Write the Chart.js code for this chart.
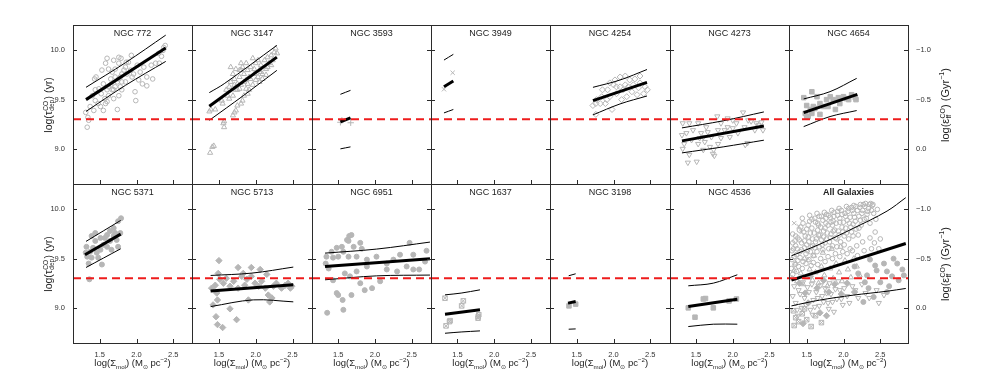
<!DOCTYPE html>
<html><head><meta charset="utf-8">
<script src="https://cdn.jsdelivr.net/npm/chart.js@4.4.1/dist/chart.umd.min.js"></script>
<style>
html,body{margin:0;padding:0;background:#fff;}
#wrap{position:relative;width:981px;height:369px;overflow:hidden;font-family:"Liberation Sans",Arial,Helvetica,sans-serif;color:#222;}
canvas{position:absolute;}
.lab{position:absolute;white-space:nowrap;font-size:9px;line-height:1;}
.rot{transform:translate(-50%,-50%) rotate(-90deg);}
.hc{transform:translate(-50%,-50%);}
.ss{display:inline-block;vertical-align:middle;font-size:0.62em;line-height:0.95;text-align:left;margin:0 0.05em;}
.ss span{display:block;}
sub,sup{font-size:0.65em;line-height:0;}
</style></head>
<body><div id="wrap"></div>
<script>
// ---------------- data ----------------
const panelTitles = ['NGC 772','NGC 3147','NGC 3593','NGC 3949','NGC 4254','NGC 4273','NGC 4654',
                     'NGC 5371','NGC 5713','NGC 6951','NGC 1637','NGC 3198','NGC 4536','All Galaxies'];
const xTickValues = [1.5, 2.0, 2.5];
const yTickValues = [9.0, 9.5, 10.0];
const effTickValues = [-1.0, -0.5, 0.0];
const refLevel = 9.3;

const ngc772Points = [[1.33,9.22],[1.35,9.29],[1.34,9.32],[1.31,9.37],[1.42,9.39],[1.48,9.46],[1.44,9.49],[1.58,9.46],[1.57,9.51],[1.62,9.54],[1.74,9.40],[1.67,9.60],[1.52,9.56],[1.43,9.71],[1.45,9.73],[1.60,9.92],[1.62,9.81],[1.58,9.87],[1.69,9.90],[1.79,9.92],[1.76,9.87],[1.85,9.83],[1.93,9.95],[1.89,9.88],[1.80,9.76],[1.71,9.73],[1.74,9.68],[1.85,9.68],[1.94,9.73],[1.98,9.58],[1.99,9.49],[2.05,9.78],[2.10,9.83],[2.14,9.64],[2.22,9.71],[2.20,9.85],[2.26,9.87],[2.31,9.87],[2.34,9.94],[2.36,10.00],[2.39,10.05],[2.30,9.97],[2.37,10.03],[1.80,9.60],[1.78,9.63],[1.65,9.71],[1.55,9.66],[1.49,9.61],[1.40,9.54],[1.37,9.43],[1.51,9.43],[1.55,9.39],[1.60,9.48],[1.69,9.51],[1.76,9.54],[1.65,9.65],[1.71,9.63],[1.67,9.78],[1.78,9.73],[1.83,9.80],[1.87,9.76],[1.92,9.80],[1.96,9.76],[2.01,9.85],[2.03,9.70],[2.14,9.73],[1.71,9.81],[1.76,9.93],[1.62,9.63],[1.53,9.80],[1.44,9.60],[1.80,9.68],[1.86,9.88],[1.69,9.60],[1.76,9.71],[1.60,9.60],[2.08,9.66]];
const ngc772Fit = [[1.314,9.50],[2.397,10.025]];
const ngc772Upper = [[1.314,9.625],[1.85,9.875],[2.397,10.155]];
const ngc772Lower = [[1.314,9.38],[1.85,9.645],[2.397,9.888]];

const ngc3147Points = [[1.38,8.96],[1.41,9.02],[1.43,9.03],[1.56,9.26],[1.57,9.22],[1.57,9.28],[1.37,9.38],[1.39,9.40],[1.45,9.40],[1.55,9.46],[1.54,9.49],[1.69,9.34],[1.71,9.37],[1.73,9.39],[1.75,9.44],[1.80,9.46],[1.82,9.49],[1.84,9.54],[1.89,9.56],[1.91,9.60],[1.87,9.61],[1.96,9.65],[1.62,9.54],[1.60,9.60],[1.64,9.63],[1.66,9.68],[1.69,9.76],[1.71,9.71],[1.75,9.66],[1.78,9.73],[1.80,9.80],[1.82,9.83],[1.84,9.76],[1.87,9.70],[1.89,9.80],[1.91,9.73],[1.93,9.83],[1.98,9.76],[2.00,9.87],[2.03,9.73],[2.05,9.80],[2.07,9.85],[2.09,9.76],[2.12,9.90],[2.14,9.81],[2.16,9.93],[2.18,9.87],[2.21,9.95],[2.23,9.90],[2.25,9.98],[2.27,10.02],[2.29,9.97],[1.73,9.60],[1.78,9.61],[1.80,9.65],[1.84,9.68],[2.00,9.70],[2.05,9.68],[2.09,9.71],[2.14,9.75],[1.66,9.83],[1.73,9.81],[1.78,9.80],[1.96,9.92],[2.03,9.90],[1.69,9.54],[1.64,9.51],[1.71,9.65],[1.75,9.60],[1.89,9.66],[1.93,9.71],[1.98,9.81],[2.07,9.78],[2.16,9.83],[2.21,9.85],[1.87,9.87],[1.80,9.87]];
const ngc3147Fit = [[1.369,9.432],[2.287,9.932]];
const ngc3147Upper = [[1.369,9.571],[1.572,9.662],[2.287,10.051]];
const ngc3147Lower = [[1.369,9.29],[1.83,9.54],[2.287,9.797]];

const ngc3593Points = [[1.53,9.27],[1.55,9.29],[1.67,9.265]];
const ngc3593Fit = [[1.53,9.274],[1.667,9.314]];
const ngc3593Upper = [[1.53,9.554],[1.667,9.594]];
const ngc3593Lower = [[1.53,9.0],[1.667,9.02]];

const ngc3949Points = [[1.435,9.773],[1.317,9.605]];
const ngc3949Fit = [[1.317,9.631],[1.444,9.689]];
const ngc3949Upper = [[1.317,9.902],[1.444,9.96]];
const ngc3949Lower = [[1.317,9.365],[1.444,9.40]];

const ngc4254Points = [[1.72,9.44],[1.76,9.46],[1.82,9.46],[1.89,9.46],[1.98,9.40],[1.85,9.60],[1.92,9.60],[2.00,9.65],[2.04,9.63],[2.09,9.73],[2.16,9.74],[2.22,9.70],[2.29,9.71],[2.36,9.67],[2.43,9.63],[2.46,9.60],[2.41,9.56],[2.32,9.55],[2.25,9.58],[2.18,9.53],[2.11,9.50],[2.04,9.56],[1.95,9.53],[1.91,9.50],[1.84,9.53],[1.77,9.50],[2.09,9.63],[2.16,9.65],[2.20,9.63],[2.27,9.65],[2.34,9.62],[2.13,9.60],[2.02,9.70],[1.95,9.67],[2.36,9.74],[1.76,9.35]];
const ngc4254Fit = [[1.721,9.49],[2.455,9.675]];
const ngc4254Upper = [[1.721,9.625],[2.088,9.699],[2.455,9.806]];
const ngc4254Lower = [[1.721,9.345],[2.088,9.456],[2.455,9.537]];

const ngc4273Points = [[1.39,8.86],[1.51,8.87],[1.41,8.94],[1.32,9.00],[1.34,9.05],[1.31,9.14],[1.32,9.26],[1.41,9.26],[1.53,9.26],[1.46,9.19],[1.57,9.16],[1.55,9.11],[1.62,9.07],[1.66,9.17],[1.71,9.12],[1.75,8.93],[1.73,8.95],[1.74,8.99],[1.69,9.02],[1.80,9.05],[1.79,9.33],[1.84,9.26],[1.89,9.19],[1.93,9.31],[1.96,9.12],[2.00,9.21],[2.05,9.26],[2.07,9.16],[2.14,9.37],[2.16,9.22],[2.21,9.29],[2.25,9.28],[2.17,9.04],[2.20,9.06],[2.30,9.19],[2.35,9.24],[2.41,9.19],[2.39,9.27],[1.37,9.16],[1.44,9.09],[1.60,8.99],[1.84,9.11],[1.64,9.22],[2.00,9.29],[2.32,9.26],[1.80,9.19],[1.93,9.22],[1.53,9.05],[1.60,9.12]];
const ngc4273Fit = [[1.31,9.081],[2.423,9.233]];
const ngc4273Upper = [[1.31,9.213],[1.87,9.285],[2.423,9.375]];
const ngc4273Lower = [[1.31,8.959],[1.87,9.02],[2.423,9.088]];

const ngc4654Points = [[1.46,9.52],[1.57,9.58],[1.64,9.53],[1.50,9.44],[1.52,9.33],[1.48,9.36],[1.55,9.40],[1.59,9.43],[1.68,9.35],[1.73,9.43],[1.77,9.50],[1.82,9.53],[1.86,9.50],[1.89,9.40],[1.93,9.52],[2.00,9.53],[2.04,9.51],[2.11,9.55],[2.17,9.50],[2.16,9.52],[1.68,9.46],[1.61,9.41],[1.57,9.36],[1.50,9.33],[1.79,9.43],[1.95,9.46],[2.07,9.50]];
const ngc4654Fit = [[1.459,9.368],[2.188,9.554]];
const ngc4654Upper = [[1.459,9.507],[1.817,9.581],[2.179,9.716]];
const ngc4654Lower = [[1.459,9.226],[1.817,9.328],[2.179,9.389]];

const ngc5371Points = [[1.36,9.29],[1.53,9.44],[1.79,9.91],[1.75,9.88],[1.69,9.81],[1.60,9.74],[1.51,9.71],[1.44,9.76],[1.39,9.73],[1.32,9.62],[1.33,9.52],[1.37,9.57],[1.41,9.61],[1.46,9.56],[1.51,9.59],[1.55,9.64],[1.60,9.62],[1.64,9.68],[1.69,9.73],[1.73,9.69],[1.78,9.76],[1.75,9.62],[1.66,9.59],[1.48,9.51],[1.39,9.51],[1.35,9.45],[1.57,9.71],[1.64,9.78],[1.71,9.76],[1.44,9.68],[1.31,9.56]];
const ngc5371Fit = [[1.30,9.539],[1.785,9.749]];
const ngc5371Upper = [[1.314,9.675],[1.785,9.888]];
const ngc5371Lower = [[1.314,9.41],[1.785,9.60]];

const ngc5713Points = [[1.50,9.48],[1.55,8.80],[1.48,8.83],[1.46,8.91],[1.74,8.88],[1.76,9.41],[1.94,9.41],[1.65,8.99],[1.90,9.08],[2.19,9.06],[2.22,9.10],[2.47,9.20],[2.49,9.22],[1.40,9.20],[1.45,9.23],[1.49,9.35],[1.51,9.29],[1.47,9.15],[1.48,9.08],[1.56,9.25],[1.60,9.30],[1.65,9.22],[1.70,9.27],[1.76,9.20],[1.81,9.32],[1.85,9.23],[1.88,9.29],[1.94,9.32],[1.99,9.25],[2.04,9.22],[2.08,9.27],[2.13,9.20],[2.17,9.13],[2.24,9.22],[2.28,9.25],[2.35,9.20],[2.40,9.23],[2.44,9.25],[2.06,9.39],[2.15,9.34],[1.83,9.35],[1.42,9.03]];
const ngc5713Fit = [[1.387,9.17],[2.51,9.234]];
const ngc5713Upper = [[1.387,9.329],[1.948,9.353],[2.51,9.414]];
const ngc5713Lower = [[1.387,9.013],[1.966,9.081],[2.51,9.061]];

const ngc6951Points = [[1.35,8.95],[1.57,8.98],[1.65,9.73],[1.68,9.74],[1.62,9.69],[1.55,9.62],[1.48,9.61],[1.41,9.57],[1.34,9.52],[1.33,9.45],[1.37,9.40],[1.43,9.51],[1.50,9.52],[1.57,9.57],[1.64,9.52],[1.71,9.62],[1.82,9.60],[1.75,9.52],[1.89,9.42],[1.48,9.15],[1.50,9.13],[1.56,9.08],[1.68,9.13],[1.80,9.25],[1.86,9.18],[1.96,9.20],[2.07,9.27],[1.89,9.49],[2.02,9.52],[2.16,9.45],[2.25,9.49],[2.34,9.54],[2.47,9.66],[2.43,9.42],[2.52,9.39],[2.60,9.39],[2.70,9.58],[2.68,9.47],[2.52,9.54],[2.16,9.39],[2.30,9.37],[1.59,9.35],[1.66,9.32],[1.75,9.37],[1.43,9.28],[1.80,9.66],[1.64,9.68]];
const ngc6951Fit = [[1.321,9.421],[2.747,9.498]];
const ngc6951Upper = [[1.321,9.556],[2.023,9.597],[2.747,9.668]];
const ngc6951Lower = [[1.321,9.285],[2.023,9.325],[2.747,9.333]];

const ngc1637Points = [[1.331,9.098],[1.345,8.817],[1.40,8.87],[1.392,8.86],[1.557,9.02],[1.58,9.071],[1.783,8.912],[1.79,8.93],[1.78,8.895]];
const ngc1637Fit = [[1.331,8.936],[1.806,8.98]];
const ngc1637Upper = [[1.331,9.132],[1.55,9.15],[1.806,9.183]];
const ngc1637Lower = [[1.331,8.742],[1.55,8.755],[1.806,8.766]];

const ngc3198Points = [[1.395,9.02],[1.486,9.038]];
const ngc3198Fit = [[1.382,9.048],[1.486,9.064]];
const ngc3198Upper = [[1.391,9.326],[1.486,9.346]];
const ngc3198Lower = [[1.391,8.783],[1.486,8.786]];

const ngc4536Points = [[1.396,9.0],[1.487,8.905],[1.60,9.09],[1.63,9.095],[1.736,9.0],[1.95,9.07],[2.05,9.09]];
const ngc4536Fit = [[1.396,9.013],[2.062,9.088]];
const ngc4536Upper = [[1.396,9.224],[1.736,9.251],[2.062,9.336]];
const ngc4536Lower = [[1.396,8.81],[1.736,8.834],[2.062,8.834]];

const allCircles = [[1.30,9.49],[1.32,9.60],[1.34,9.68],[1.31,9.75],[1.36,9.54],[1.38,9.71],[1.35,9.63],[1.41,9.57],[1.43,9.66],[1.40,9.79],[1.45,9.86],[1.47,9.61],[1.44,9.91],[1.48,9.73],[1.51,9.58],[1.53,9.67],[1.55,9.76],[1.52,9.84],[1.57,9.90],[1.54,9.94],[1.58,9.70],[1.56,9.62],[1.61,9.61],[1.63,9.70],[1.65,9.79],[1.62,9.87],[1.67,9.93],[1.64,9.96],[1.68,9.74],[1.66,9.84],[1.71,9.64],[1.73,9.72],[1.75,9.81],[1.72,9.89],[1.77,9.95],[1.74,9.97],[1.78,9.76],[1.76,9.86],[1.81,9.67],[1.83,9.75],[1.85,9.84],[1.82,9.92],[1.87,9.97],[1.84,9.99],[1.88,9.79],[1.86,9.88],[1.91,9.70],[1.93,9.78],[1.95,9.87],[1.92,9.94],[1.97,9.99],[1.94,10.01],[1.98,9.82],[2.01,9.73],[2.03,9.81],[2.05,9.89],[2.02,9.96],[2.07,10.01],[2.04,10.03],[2.08,9.86],[2.11,9.77],[2.13,9.85],[2.15,9.92],[2.12,9.99],[2.17,10.03],[2.14,10.04],[2.21,9.81],[2.23,9.89],[2.25,9.96],[2.22,10.02],[2.27,10.05],[2.29,10.03],[2.31,9.91],[2.33,9.98],[2.35,10.05],[2.37,10.06],[2.39,10.04],[2.43,9.77],[2.48,9.60],[2.41,9.96],[2.36,9.71],[2.26,9.67],[2.18,9.63],[2.09,9.60],[1.99,9.57],[1.89,9.55],[1.79,9.52],[1.69,9.50],[1.59,9.46],[1.49,9.45],[1.39,9.42]];
const allCirclesB = [[1.29,9.40],[1.30,9.58],[1.31,9.66],[1.33,9.52],[1.34,9.44],[1.35,9.73],[1.37,9.60],[1.38,9.48],[1.40,9.69],[1.41,9.51],[1.42,9.82],[1.43,9.59],[1.45,9.47],[1.46,9.77],[1.47,9.68],[1.49,9.55],[1.50,9.80],[1.50,9.64],[1.52,9.72],[1.53,9.49],[1.54,9.88],[1.55,9.57],[1.57,9.81],[1.58,9.63],[1.59,9.53],[1.60,9.76],[1.61,9.91],[1.62,9.67],[1.64,9.57],[1.65,9.86],[1.66,9.74],[1.67,9.62],[1.69,9.82],[1.70,9.69],[1.70,9.93],[1.72,9.59],[1.73,9.78],[1.75,9.66],[1.76,9.91],[1.77,9.70],[1.79,9.84],[1.80,9.60],[1.80,9.94],[1.82,9.71],[1.83,9.87],[1.85,9.63],[1.86,9.78],[1.87,9.93],[1.89,9.71],[1.90,9.86],[1.91,9.62],[1.92,9.98],[1.94,9.74],[1.95,9.91],[1.96,9.67],[1.98,9.95],[1.99,9.77],[2.00,9.87],[2.01,9.64],[2.03,9.93],[2.04,9.76],[2.06,9.98],[2.07,9.70],[2.09,9.92],[2.10,9.82],[2.11,10.02],[2.13,9.73],[2.14,9.96],[2.16,9.88],[2.17,9.80],[2.19,9.99],[2.20,9.74],[2.21,9.93],[2.23,10.05],[2.24,9.84],[2.26,9.99],[2.28,9.90],[2.30,10.06],[2.32,9.95],[2.34,10.01],[2.36,9.86],[2.38,9.99],[2.40,10.05],[2.44,9.90],[2.46,10.00],[2.42,9.66],[2.50,9.70],[2.38,9.60],[2.28,9.58],[2.19,9.53],[1.31,9.34],[1.36,9.37],[1.44,9.40],[1.56,9.43],[1.65,9.44],[1.75,9.47],[1.85,9.50],[1.95,9.52],[2.05,9.55],[2.12,9.58]];
const allTriangles = [[1.30,9.30],[1.33,9.38],[1.37,9.27],[1.42,9.35],[1.45,9.24],[1.50,9.31],[1.54,9.39],[1.58,9.28],[1.62,9.36],[1.66,9.25],[1.70,9.42],[1.74,9.33],[1.78,9.22],[1.82,9.40],[1.86,9.30],[1.90,9.45],[1.94,9.36],[1.98,9.27],[2.02,9.48],[2.06,9.39],[2.10,9.31],[2.14,9.50],[2.18,9.42],[2.22,9.33],[1.35,9.45],[1.47,9.50],[1.60,9.53],[1.72,9.56],[1.84,9.60],[1.96,9.62]];
const allDownTriangles = [[1.31,9.12],[1.35,9.05],[1.39,9.18],[1.43,9.00],[1.47,9.10],[1.51,9.21],[1.55,8.98],[1.59,9.08],[1.63,9.16],[1.67,9.02],[1.71,9.12],[1.75,9.20],[1.79,9.05],[1.83,9.14],[1.87,8.96],[1.91,9.09],[1.95,9.18],[1.99,9.03],[2.05,9.12],[2.12,9.22],[2.20,9.10],[2.30,9.15],[2.45,9.18],[2.55,9.13],[1.33,9.22],[1.37,8.98],[1.41,9.14],[1.45,9.26],[1.49,9.03],[1.53,9.16],[1.57,9.24],[1.61,9.01],[1.65,9.10],[1.69,9.23],[1.73,9.06],[1.77,9.15],[1.81,9.25],[1.85,9.06],[1.89,9.19],[1.93,9.27],[1.97,9.09],[2.01,9.20],[2.08,9.05],[2.16,9.18],[2.25,9.24],[2.35,9.10],[2.48,9.05],[1.38,8.92],[1.58,8.93],[1.80,8.99]];
const allSquares = [[1.33,8.82],[1.35,8.90],[1.39,8.86],[1.44,8.94],[1.50,8.88],[1.56,8.81],[1.62,8.92],[1.70,8.85],[1.32,8.97],[1.47,8.99]];
const allFilledCircles = [[2.43,9.43],[2.45,9.38],[2.59,9.37],[2.73,9.45],[2.80,9.39],[2.82,9.33],[2.59,9.16],[2.41,9.11],[2.27,9.06],[2.34,9.20],[2.50,9.26],[2.66,9.32],[2.29,9.26],[2.20,9.35],[2.36,9.49],[2.15,9.42],[2.68,9.50],[2.32,9.33],[2.55,9.45],[2.75,9.28],[2.62,9.22]];
const allDiamonds = [[1.40,9.25],[1.48,9.15],[1.55,9.32],[1.64,9.20],[1.73,9.28],[1.80,9.16],[1.88,9.24],[1.97,9.14],[2.05,9.25],[2.15,9.16],[1.52,9.05],[1.68,8.95],[1.77,8.92],[1.45,8.84]];
const allCrosses = [[1.33,9.86],[1.39,9.83],[1.43,9.77],[1.52,9.50]];
const allFit = [[1.293,9.281],[2.846,9.654]];
const allUpper = [[1.293,9.529],[1.671,9.644],[2.131,9.807],[2.592,9.983],[2.846,10.119]];
const allLower = [[1.293,9.02],[1.671,9.078],[2.131,9.129],[2.592,9.169],[2.846,9.197]];

// ---------------- layout & style ----------------
const colLefts = [73,192,312,431,550,670,789];
const plotRight = 908;
const rowTops = [25,184];
const rowHeight = 159;
const tickPx15 = [99.7,218.95,338.2,457.45,576.7,695.95,806.7]; // pixel where x = 1.5 in each column
const pxPerDex = 73.6;
const yMin = 8.643, yMax = 10.258;
const FONT = '"Liberation Sans", Arial, Helvetica, sans-serif';
const GRAY = '#b6b6b6';

const markers = {
  openCircle:{style:'circle',r:2.3,fill:false},
  openTriangle:{style:'triangle',r:3,fill:false},
  plus:{style:'cross',r:3.2,fill:false},
  cross:{style:'crossRot',r:3,fill:false},
  openDiamond:{style:'rectRot',r:3,fill:false},
  downTriangle:{style:'triangle',r:3,fill:false,rot:180},
  filledSquare:{style:'rect',r:3.2,fill:true},
  filledDiamond:{style:'rectRot',r:3.2,fill:true},
  filledCircle:{style:'circle',r:2.5,fill:true},
  openSquare:{style:'rect',r:3.2,fill:false},
  squareCross:{style:'crossRot',r:3.2,fill:false}
};

const panels = [
  {sets:[[ngc772Points,'openCircle']], fit:ngc772Fit, up:ngc772Upper, lo:ngc772Lower},
  {sets:[[ngc3147Points,'openTriangle']], fit:ngc3147Fit, up:ngc3147Upper, lo:ngc3147Lower},
  {sets:[[ngc3593Points,'plus']], fit:ngc3593Fit, up:ngc3593Upper, lo:ngc3593Lower},
  {sets:[[ngc3949Points,'cross']], fit:ngc3949Fit, up:ngc3949Upper, lo:ngc3949Lower},
  {sets:[[ngc4254Points,'openDiamond']], fit:ngc4254Fit, up:ngc4254Upper, lo:ngc4254Lower},
  {sets:[[ngc4273Points,'downTriangle']], fit:ngc4273Fit, up:ngc4273Upper, lo:ngc4273Lower},
  {sets:[[ngc4654Points,'filledSquare']], fit:ngc4654Fit, up:ngc4654Upper, lo:ngc4654Lower},
  {sets:[[ngc5371Points,'filledCircle']], fit:ngc5371Fit, up:ngc5371Upper, lo:ngc5371Lower},
  {sets:[[ngc5713Points,'filledDiamond']], fit:ngc5713Fit, up:ngc5713Upper, lo:ngc5713Lower},
  {sets:[[ngc6951Points,'filledCircle']], fit:ngc6951Fit, up:ngc6951Upper, lo:ngc6951Lower},
  {sets:[[ngc1637Points,'openSquare'],[ngc1637Points,'squareCross']], fit:ngc1637Fit, up:ngc1637Upper, lo:ngc1637Lower},
  {sets:[[ngc3198Points,'filledSquare']], fit:ngc3198Fit, up:ngc3198Upper, lo:ngc3198Lower},
  {sets:[[ngc4536Points,'filledSquare']], fit:ngc4536Fit, up:ngc4536Upper, lo:ngc4536Lower},
  {sets:[[allCircles,'openCircle'],[allCirclesB,'openCircle'],[allTriangles,'openTriangle'],[allDownTriangles,'downTriangle'],[allSquares,'openSquare'],[allSquares,'squareCross'],[allFilledCircles,'filledCircle'],[allDiamonds,'filledDiamond'],[allCrosses,'cross']], fit:allFit, up:allUpper, lo:allLower, bold:true}
];

const toXY = a => a.map(([x,y]) => ({x, y}));

const decor = {
  id:'decor',
  afterDatasetsDraw(chart, args, opts){
    const {ctx, chartArea:a} = chart;
    const xs = chart.scales.x, ys = chart.scales.y;
    ctx.save();
    ctx.strokeStyle = '#2b2b2b'; ctx.lineWidth = 1;
    ctx.beginPath();
    yTickValues.forEach(v => {
      const py = Math.round(ys.getPixelForValue(v)) + 0.5;
      ctx.moveTo(a.left, py); ctx.lineTo(a.left + 4, py);
      ctx.moveTo(a.right - 4, py); ctx.lineTo(a.right, py);
    });
    xTickValues.forEach(v => {
      const px = Math.round(xs.getPixelForValue(v)) + 0.5;
      ctx.moveTo(px, a.bottom); ctx.lineTo(px, a.bottom - 4);
    });
    ctx.stroke();
    ctx.strokeRect(a.left + 0.5, a.top + 0.5, a.right - a.left, a.bottom - a.top);
    ctx.fillStyle = '#222';
    ctx.font = (opts.bold ? 'bold ' : '') + '9px ' + FONT;
    ctx.textAlign = 'center'; ctx.textBaseline = 'middle';
    ctx.fillText(opts.title, (a.left + a.right) / 2, a.top + 9);
    ctx.restore();
  }
};

const wrap = document.getElementById('wrap');

panels.forEach((p, idx) => {
  const col = idx % 7, row = Math.floor(idx / 7);
  const left = colLefts[col];
  const right = col < 6 ? colLefts[col + 1] : plotRight;
  const w = right - left;
  const padL = col === 0 ? 73 : 0;
  const padR = col === 6 ? 981 - plotRight : 0;
  const padB = row === 1 ? 369 - (rowTops[1] + rowHeight) : 0;
  const cv = document.createElement('canvas');
  cv.width = w + padL + padR; cv.height = rowHeight + padB;
  cv.style.left = (left - padL) + 'px'; cv.style.top = rowTops[row] + 'px';
  wrap.appendChild(cv);

  const xMin = 1.5 - (tickPx15[col] - left) / pxPerDex;
  const xMax = 1.5 + (right - tickPx15[col]) / pxPerDex;

  const datasets = [];
  datasets.push({data: toXY([[xMin, refLevel],[xMax, refLevel]]), showLine:true, borderColor:'#ee1c1c', borderWidth:2, borderDash:[8,5], pointRadius:0, order:0});
  datasets.push({data: toXY(p.fit), showLine:true, borderColor:'#000', borderWidth:3, pointRadius:0, order:1});
  datasets.push({data: toXY(p.up), showLine:true, borderColor:'#000', borderWidth:1, pointRadius:0, tension:0.35, order:2});
  datasets.push({data: toXY(p.lo), showLine:true, borderColor:'#000', borderWidth:1, pointRadius:0, tension:0.35, order:2});
  p.sets.forEach(([arr, mk], k) => {
    const m = markers[mk];
    datasets.push({data: toXY(arr), showLine:false, pointStyle:m.style, pointRadius:m.r, pointRotation:m.rot || 0,
      pointBorderColor:GRAY, pointBackgroundColor: m.fill ? GRAY : 'rgba(0,0,0,0)', pointBorderWidth:1, order:5 + k});
  });

  const tickFont = {size:7.5, family:FONT};
  new Chart(cv, {
    type:'scatter',
    data:{datasets},
    options:{
      responsive:false, animation:false, devicePixelRatio:1, events:[],
      layout:{padding:0, autoPadding:false},
      plugins:{legend:{display:false}, tooltip:{enabled:false}, decor:{title:panelTitles[idx], bold:!!p.bold}},
      scales:{
        x:{type:'linear', min:xMin, max:xMax, display:row === 1, position:'bottom',
           grid:{display:false, drawTicks:false}, border:{display:false},
           ticks:{font:tickFont, color:'#333', padding:7, maxRotation:0, autoSkip:false, callback:v => v.toFixed(1)},
           afterBuildTicks:s => { s.ticks = xTickValues.map(v => ({value:v})); },
           afterFit:s => { s.height = padB; s.paddingLeft = 0; s.paddingRight = 0; }},
        y:{type:'linear', min:yMin, max:yMax, display:col === 0, position:'left',
           grid:{display:false, drawTicks:false}, border:{display:false},
           ticks:{font:tickFont, color:'#333', padding:8, autoSkip:false, callback:v => v.toFixed(1)},
           afterBuildTicks:s => { s.ticks = yTickValues.map(v => ({value:v})); },
           afterFit:s => { s.width = padL; s.paddingTop = 0; s.paddingBottom = 0; }},
        y2:{type:'linear', min:9 - yMax, max:9 - yMin, reverse:true, display:col === 6, position:'right',
           grid:{display:false, drawTicks:false}, border:{display:false},
           ticks:{font:tickFont, color:'#333', padding:8, autoSkip:false, callback:v => (v < 0 ? '\u2212' : '') + Math.abs(v).toFixed(1)},
           afterBuildTicks:s => { s.ticks = effTickValues.map(v => ({value:v})); },
           afterFit:s => { s.width = padR; s.paddingTop = 0; s.paddingBottom = 0; }}
      }
    },
    plugins:[decor]
  });
});

// axis titles (HTML text with sub/superscripts)
function addLabel(html, x, y, cls, size){
  const d = document.createElement('div');
  d.className = 'lab ' + cls;
  d.style.left = x + 'px'; d.style.top = y + 'px';
  if (size) d.style.fontSize = size + 'px';
  d.innerHTML = html;
  wrap.appendChild(d);
}
const tauTitle = 'log(\u03c4<span class="ss"><span>CO</span><span>dep</span></span>) (yr)';
const effTitle = 'log(\u03b5<span class="ss"><span>CO</span><span>ff</span></span>) (Gyr<sup>\u22121</sup>)';
const sigTitle = 'log(\u03a3<sub>mol</sub>) (M<sub>\u2299</sub> pc<sup>\u22122</sup>)';
rowTops.forEach(t => {
  addLabel(tauTitle, 49, t + 80, 'rot', 10.5);
  addLabel(effTitle, 946, t + 80, 'rot', 11);
});
colLefts.forEach((l, c) => {
  const r = c < 6 ? colLefts[c + 1] : plotRight;
  addLabel(sigTitle, (l + r) / 2, 363, 'hc', 9.5);
});
</script></body></html>
